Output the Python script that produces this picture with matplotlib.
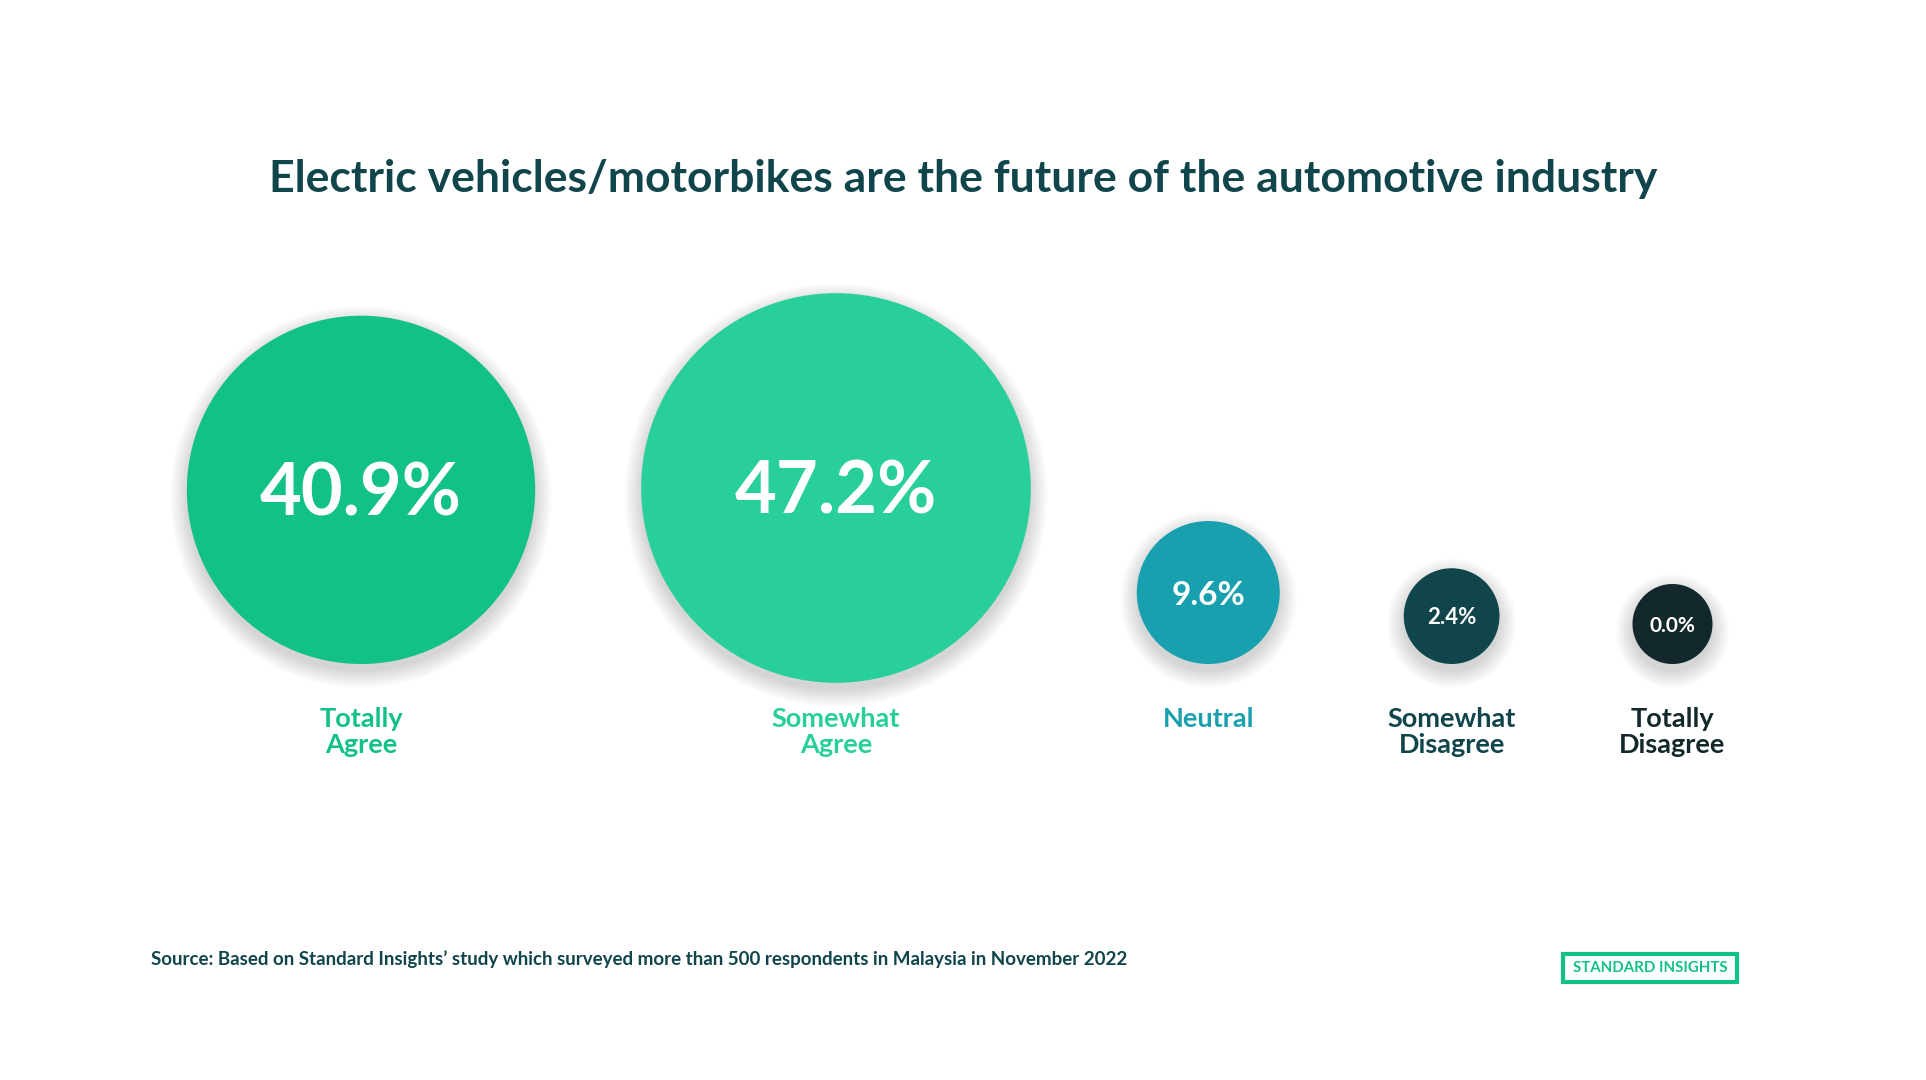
import matplotlib
matplotlib.use("Agg")
import matplotlib.pyplot as plt
from matplotlib.patches import Circle, Rectangle

# survey answers
categories = ["Totally\nAgree", "Somewhat\nAgree", "Neutral", "Somewhat\nDisagree", "Totally\nDisagree"]
shares = [40.9, 47.2, 9.6, 2.4, 0.0]
share_labels = ["40.9%", "47.2%", "9.6%", "2.4%", "0.0%"]

title = "Electric vehicles/motorbikes are the future of the automotive industry"
source = ("Source: Based on Standard Insights\u2019 study which surveyed more than "
          "500 respondents in Malaysia in November 2022")
brand = "STANDARD INSIGHTS"

colors = ["#12C184", "#29CF9B", "#19A0AE", "#10454B", "#13282A"]
value_sizes = [52, 52, 24, 16, 15]  # pt
DARK = "#0F454B"
FONT = "Lato"

W, H = 1926, 1080


def radius(v):
    # bubble radius grows linearly with the share (px)
    return 40 + 3.28 * v


def main():
    fig = plt.figure(figsize=(W / 100, H / 100), dpi=100)
    ax = fig.add_axes([0, 0, 1, 1])
    ax.set_xlim(0, W)
    ax.set_ylim(H, 0)
    ax.axis("off")

    radii = [radius(v) for v in shares]
    gaps = [106, 106, 124, 133]
    xs = [361]
    for i in range(1, len(radii)):
        xs.append(xs[-1] + radii[i - 1] + gaps[i - 1] + radii[i])
    ys = [max(488, 664 - r) for r in radii]

    for x, y, r, col, lab, fs in zip(xs, ys, radii, colors, share_labels, value_sizes):
        # soft shadow
        for k in range(14):
            ax.add_patch(Circle((x, y + 7), r + k * 1.3, color="black",
                                alpha=0.010, lw=0, zorder=1))
        ax.add_patch(Circle((x, y), r, color=col, lw=0, zorder=2))
        cap = fs / 0.72 * 0.72
        ax.text(x, y + cap / 2, lab, ha="center", va="baseline", color="white",
                fontsize=fs, fontweight="bold", family=FONT, zorder=3)

    for x, col, cat in zip(xs, colors, categories):
        ax.text(x, 707, cat, ha="center", va="top", color=col, fontsize=19.5,
                fontweight="bold", family=FONT, linespacing=1.1, zorder=3)

    ax.text(W / 2, 192, title, ha="center", va="baseline", color=DARK,
            fontsize=32, fontweight="bold", family=FONT)

    ax.text(151, 965, source, ha="left", va="baseline", color=DARK,
            fontsize=13.5, fontweight="bold", family=FONT)

    ax.add_patch(Rectangle((1563, 954), 174, 28, fill=False, ec="#12C184", lw=3))
    ax.text(1650, 968.5, brand, ha="center", va="center", color="#12C184",
            fontsize=10.8, fontweight="bold", family=FONT)

    fig.savefig("out.png", dpi=100, facecolor="white")


if __name__ == "__main__":
    main()
